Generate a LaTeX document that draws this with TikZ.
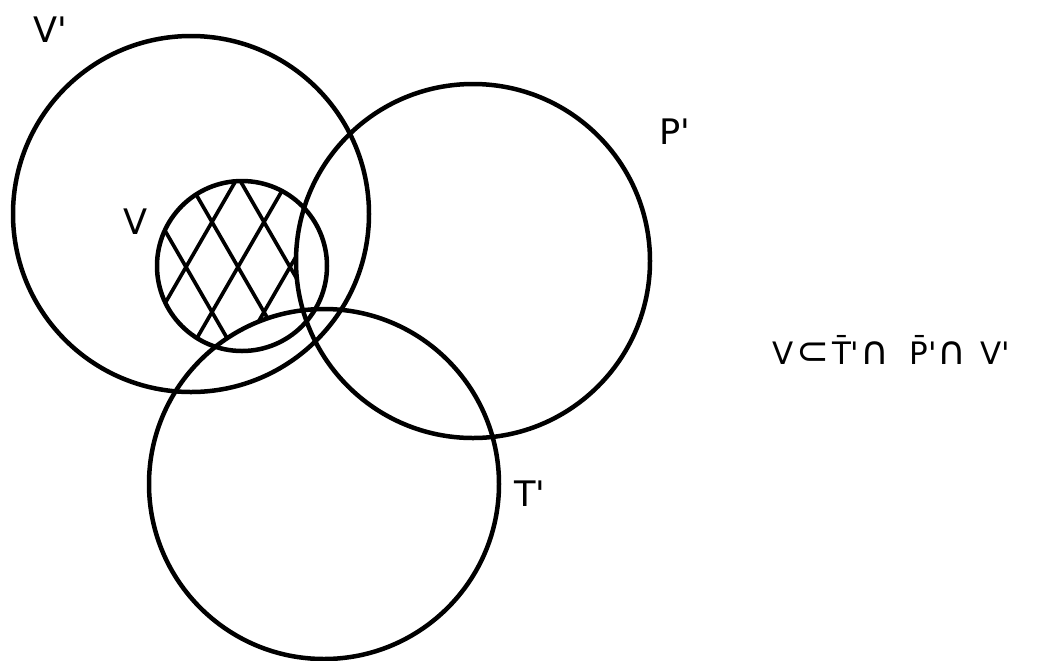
\documentclass[tikz,border=0pt]{standalone}
\usepackage{fontspec}
\setmainfont{DejaVu Sans}
\usetikzlibrary{positioning}
\newcommand{\prm}{\textquotesingle}
\newcommand{\bigsym}[1]{{\fontsize{28}{28}\selectfont #1}}

\begin{document}
\begin{tikzpicture}[x=0.025cm, y=-0.025cm, line width=3.2pt,
  lbl/.style={font=\fontsize{25}{30}\selectfont, inner sep=0pt}]
\useasboundingbox (0,0) rectangle (1040,660);
% centres of the circles
\coordinate (vbig) at (191,214);
\coordinate (pbig) at (473,261);
\coordinate (tbig) at (324,484);
\coordinate (vsmall) at (242,266);
% cross hatch: V without P' and T'
\begin{scope}[even odd rule]
\clip (vsmall) circle (85);
\clip (pbig) circle (177) (0,0) rectangle (1040,660);
\clip (tbig) circle (175) (0,0) rectangle (1040,660);
\foreach \k in {-3,...,3} {
  \draw[line width=2.6pt] (186+52*\k,267) ++(-120,207.8) -- ++(240,-415.6);
  \draw[line width=2.6pt] (186+52*\k,267) ++(-120,-207.8) -- ++(240,415.6);
}
\end{scope}
% circles
\draw (vbig) circle (178);
\draw (pbig) circle (177);
\draw (tbig) circle (175);
\draw (vsmall) circle (85);
% labels
\node[lbl] (vplab) at (50,30) {V\prm};
\node[lbl] (vlab) at (136,222) {V};
\node[lbl] (pplab) at (675,132) {P\prm};
\node[lbl] (tplab) at (530,494) {T\prm};
\node[font=\fontsize{22}{26}\selectfont, inner sep=0pt, anchor=base west] (incl) at (770,364)
  {V\hspace{2pt}\bigsym{⊂}\hspace{2pt}\={T}\prm\hspace{1pt}\bigsym{∩}\hspace{14pt}\={P}\prm\hspace{1pt}\bigsym{∩}\hspace{10pt}V\prm};
\end{tikzpicture}
\end{document}
